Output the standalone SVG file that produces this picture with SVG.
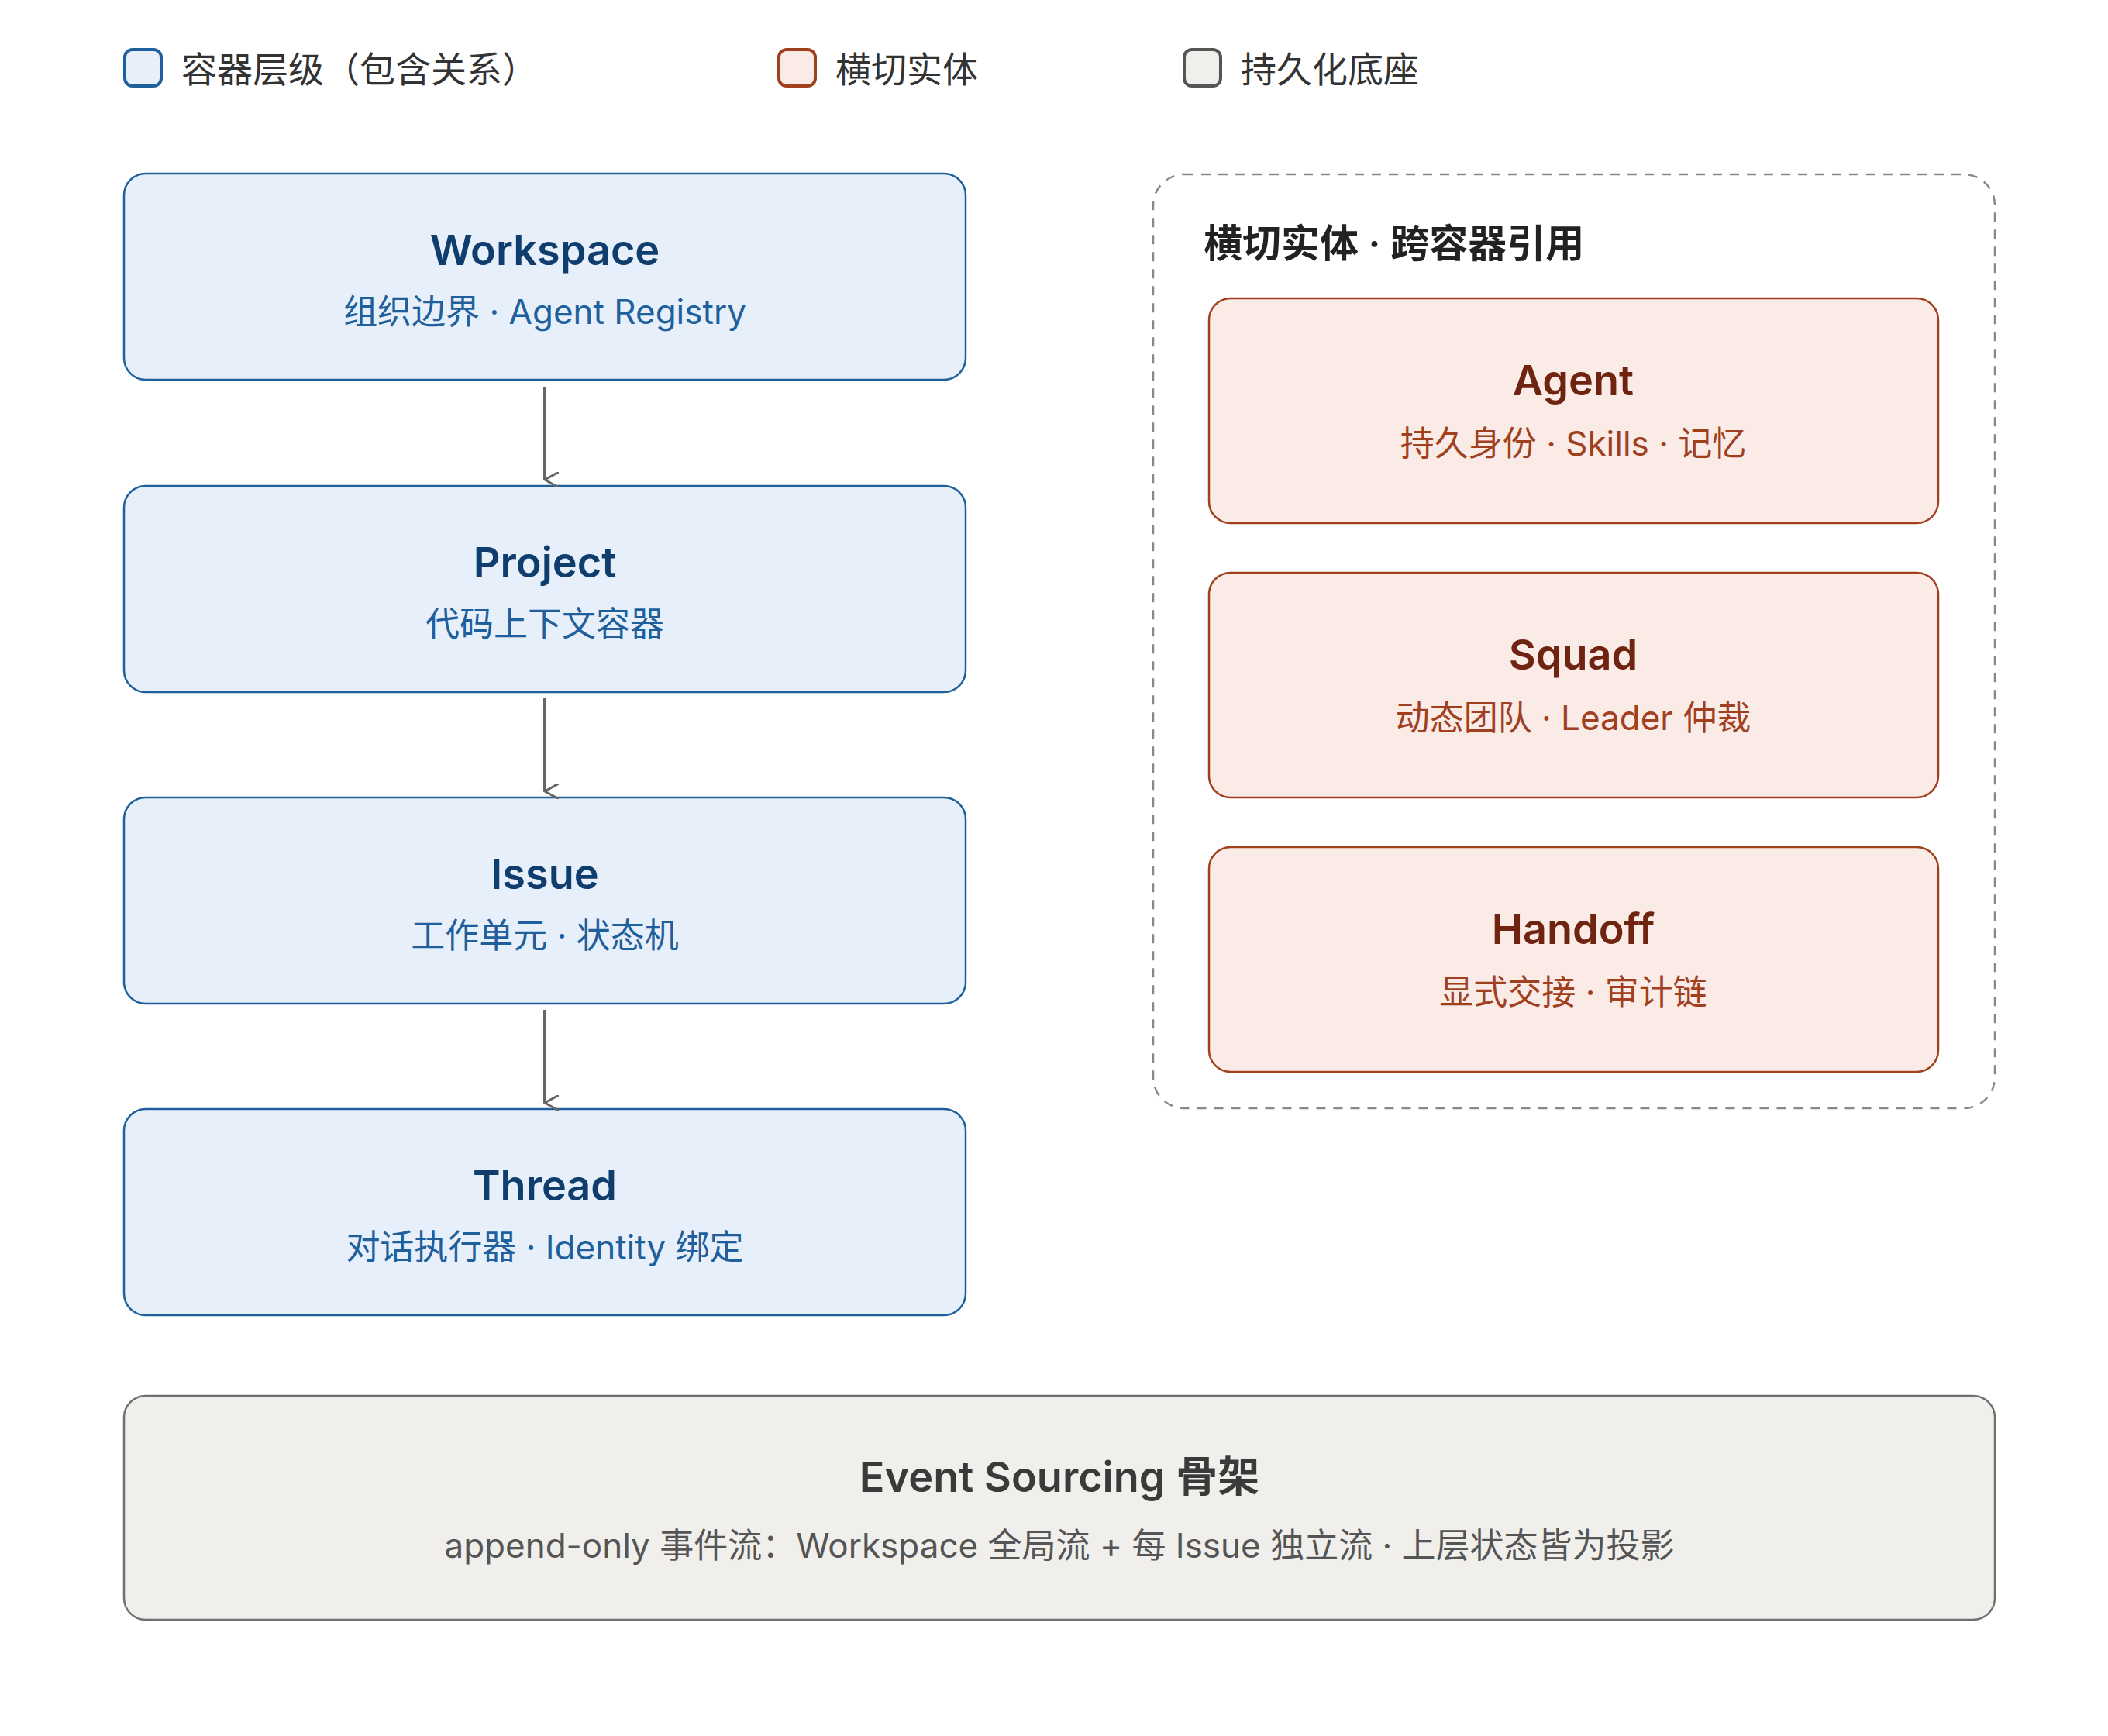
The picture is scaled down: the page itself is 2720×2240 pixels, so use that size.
<svg xmlns="http://www.w3.org/2000/svg" width="2720" height="2240" viewBox="0 0 2720 2240">
<style>
text{font-family:Inter,"Noto Sans","Noto Sans CJK SC",sans-serif;text-anchor:middle}
.blue rect{fill:#e7f0fa;stroke:#1f5f9c;stroke-width:2.5}
.blue .t{fill:#0f3d6e;font-size:54px;font-weight:600}
.blue .s{fill:#1f5f9c;font-size:44px}
.red rect{fill:#faebe7;stroke:#a0401e;stroke-width:2.5}
.red .t{fill:#6e2410;font-size:54px;font-weight:600}
.red .s{fill:#a0401e;font-size:44px}
.gray rect{fill:#f0efeb;stroke:#707070;stroke-width:2.5}
.gray .t{fill:#3a3a3a;font-size:54px;font-weight:600}
.gray .s{fill:#555;font-size:44px}
.leg{font-size:46px;fill:#333;text-anchor:start}
</style>
<defs><marker id="ah" viewBox="0 0 20 20" refX="10" refY="18" markerWidth="20" markerHeight="20" markerUnits="userSpaceOnUse" orient="auto-start-reverse"><path d="M0,0 L10,18 L20,0" fill="none" stroke="#666" stroke-width="3"/></marker></defs>
<g id="legend">
<rect x="161" y="64" width="47" height="47" rx="10" fill="#e7f0fa" stroke="#1f5f9c" stroke-width="4"/>
<text class="leg" x="234" y="106">容器层级（包含关系）</text>
<rect x="1005" y="64" width="47" height="47" rx="10" fill="#faebe7" stroke="#a0401e" stroke-width="4"/>
<text class="leg" x="1078" y="106">横切实体</text>
<rect x="1528" y="64" width="47" height="47" rx="10" fill="#f0efeb" stroke="#555" stroke-width="4"/>
<text class="leg" x="1601" y="106">持久化底座</text>
</g>
<g id="workspace" class="blue"><rect x="160" y="224" width="1086" height="266" rx="28"/><text class="t" x="703" y="342">Workspace</text><text class="s" x="703" y="418">组织边界 · Agent Registry</text></g>
<g id="project" class="blue"><rect x="160" y="627" width="1086" height="266" rx="28"/><text class="t" x="703" y="745">Project</text><text class="s" x="703" y="821">代码上下文容器</text></g>
<g id="issue" class="blue"><rect x="160" y="1029" width="1086" height="266" rx="28"/><text class="t" x="703" y="1147">Issue</text><text class="s" x="703" y="1223">工作单元 · 状态机</text></g>
<g id="thread" class="blue"><rect x="160" y="1431" width="1086" height="266" rx="28"/><text class="t" x="703" y="1549">Thread</text><text class="s" x="703" y="1625">对话执行器 · Identity 绑定</text></g>
<g id="crosscut">
<rect x="1488" y="225" width="1086" height="1205" rx="40" fill="none" stroke="#888" stroke-width="2.5" stroke-dasharray="12 10"/>
<text x="1553" y="332" style="text-anchor:start;font-size:50px;font-weight:600;fill:#222">横切实体 · 跨容器引用</text>
</g>
<g id="agent" class="red"><rect x="1560" y="385" width="941" height="290" rx="28"/><text class="t" x="2030" y="510">Agent</text><text class="s" x="2030" y="588">持久身份 · Skills · 记忆</text></g>
<g id="squad" class="red"><rect x="1560" y="739" width="941" height="290" rx="28"/><text class="t" x="2030" y="864">Squad</text><text class="s" x="2030" y="942">动态团队 · Leader 仲裁</text></g>
<g id="handoff" class="red"><rect x="1560" y="1093" width="941" height="290" rx="28"/><text class="t" x="2030" y="1218">Handoff</text><text class="s" x="2030" y="1296">显式交接 · 审计链</text></g>
<g id="eventsourcing" class="gray"><rect x="160" y="1801" width="2414" height="289" rx="28"/><text class="t" x="1367" y="1925">Event Sourcing 骨架</text><text class="s" x="1367" y="2010">append-only 事件流：Workspace 全局流 + 每 Issue 独立流 · 上层状态皆为投影</text></g>
<g id="connectors" stroke="#666" stroke-width="4" fill="none">
<line x1="703" y1="499" x2="703" y2="619" marker-end="url(#ah)"/>
<line x1="703" y1="901" x2="703" y2="1021" marker-end="url(#ah)"/>
<line x1="703" y1="1303" x2="703" y2="1423" marker-end="url(#ah)"/>
</g>
</svg>
